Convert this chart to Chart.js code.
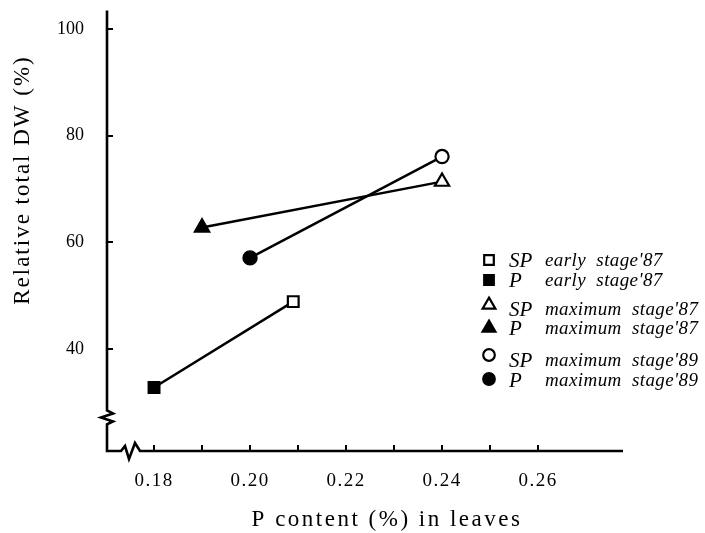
<!DOCTYPE html>
<html><head><meta charset="utf-8">
<script src="https://cdn.jsdelivr.net/npm/chart.js@4.4.1/dist/chart.umd.min.js"></script>
<style>html,body{margin:0;padding:0;background:#fff}#wrap{width:705px;height:533px}</style>
</head><body><div id="wrap"><canvas id="c" width="705" height="533"></canvas></div>
<script>
// ---- data ----
const stages = ["early stage'87", "maximum stage'87", "maximum stage'89"];
const treatments = ["SP", "P"];
const pContentP = [0.180, 0.190, 0.200];
const totalDwP = [32.8, 62.8, 57.1];
const pContentSP = [0.209, 0.240, 0.240];
const totalDwSP = [48.9, 71.4, 76.1];
const xTickValues = [0.18, 0.19, 0.20, 0.21, 0.22, 0.23, 0.24, 0.25, 0.26];
const xTickLabels = ["0.18", "", "0.20", "", "0.22", "", "0.24", "", "0.26"];
const yTickValues = [40, 60, 80, 100];
const yTickLabels = ["40", "60", "80", "100"];
const xAxisTitle = "P content (%) in leaves";
const yAxisTitle = "Relative total DW (%)";
const yBreakValue = 27.2;

// ---- styles ----
const stageShapes = ['rect', 'triangle', 'circle'];
const stageRadius = [7.6, 8.2, 6.6];
const SERIF = '"Liberation Serif", "Times New Roman", serif';

const datasets = stages.map((s, i) => ({
  label: s,
  data: [{x: pContentP[i], y: totalDwP[i]}, {x: pContentSP[i], y: totalDwSP[i]}],
  borderColor: '#000',
  borderWidth: 2.5,
  pointStyle: stageShapes[i],
  pointRadius: stageRadius[i],
  pointHoverRadius: stageRadius[i],
  pointBackgroundColor: ['#000', '#fff'],
  pointBorderColor: '#000',
  pointBorderWidth: 2.2,
  fill: false,
  tension: 0
}));

const decor = {
  id: 'decor',
  beforeDraw(chart) {
    const xs = chart.scales.x;
    if (!xs._spaced) {
      const orig = xs.drawLabels;
      xs.drawLabels = function (ca) {
        const c = this.ctx; c.save(); c.letterSpacing = '1.5px'; orig.call(this, ca); c.restore();
      };
      xs._spaced = true;
    }
  },
  beforeDatasetsDraw(chart) {
    const ctx = chart.ctx, ca = chart.chartArea, xs = chart.scales.x, ys = chart.scales.y;
    const L = ca.left, B = ca.bottom, R = ca.right, T = ca.top;
    const yb = ys.getPixelForValue(yBreakValue);
    ctx.save();
    ctx.strokeStyle = '#000';
    ctx.lineWidth = 2.6;
    ctx.lineJoin = 'miter';
    ctx.beginPath();
    ctx.moveTo(L, T);
    ctx.lineTo(L, yb - 7);
    ctx.lineTo(L + 6, yb - 4);
    ctx.lineTo(L - 6, yb);
    ctx.lineTo(L + 6, yb + 4);
    ctx.lineTo(L, yb + 7);
    ctx.lineTo(L, B);
    ctx.lineTo(L + 14, B);
    ctx.lineTo(L + 18, B - 5);
    ctx.lineTo(L + 22, B + 8);
    ctx.lineTo(L + 28, B - 8);
    ctx.lineTo(L + 33, B);
    ctx.lineTo(R, B);
    ctx.stroke();
    ctx.lineWidth = 2;
    ctx.beginPath();
    xTickValues.forEach(v => {
      const px = Math.round(xs.getPixelForValue(v));
      ctx.moveTo(px, B); ctx.lineTo(px, B - 6);
    });
    yTickValues.forEach(v => {
      const py = Math.round(ys.getPixelForValue(v));
      ctx.moveTo(L, py); ctx.lineTo(L + 6, py);
    });
    ctx.stroke();
    ctx.restore();
  },
  afterDraw(chart) {
    const ctx = chart.ctx;
    ctx.save();
    ctx.fillStyle = '#000';
    // axis titles
    ctx.letterSpacing = '2.5px';
    ctx.font = '23px ' + SERIF;
    ctx.textAlign = 'center';
    ctx.textBaseline = 'middle';
    ctx.fillText(xAxisTitle, 387, 520);
    ctx.letterSpacing = '2px';
    ctx.translate(23, 180);
    ctx.rotate(-Math.PI / 2);
    ctx.fillText(yAxisTitle, 0, 0);
    ctx.setTransform(1, 0, 0, 1, 0, 0);
    ctx.letterSpacing = '0px';
    // legend
    const rowsY = [260, 280, 305, 328, 355, 379];
    const textDy = [1, 1, 5, 1, 6, 2];
    let r = 0;
    stages.forEach((s, i) => {
      treatments.forEach((t, j) => {
        const y = rowsY[r];
        ctx.fillStyle = t === 'SP' ? '#fff' : '#000';
        ctx.strokeStyle = '#000';
        ctx.lineWidth = 2.2;
        Chart.helpers.drawPoint(ctx, {pointStyle: stageShapes[i], radius: stageRadius[i] - 0.8, borderWidth: 2.2, rotation: 0}, 489, y);
        ctx.fillStyle = '#000';
        ctx.textAlign = 'left';
        ctx.textBaseline = 'middle';
        ctx.font = 'italic 21px ' + SERIF;
        ctx.fillText(t, 509, y + textDy[r]);
        ctx.font = 'italic 19px ' + SERIF;
        ctx.letterSpacing = '0.4px';
        ctx.fillText(s.replace(' ', '  '), 545, y + textDy[r]);
        ctx.letterSpacing = '0px';
        r++;
      });
    });
    ctx.restore();
  }
};

new Chart(document.getElementById('c'), {
  type: 'line',
  data: {datasets},
  options: {
    responsive: false,
    animation: false,
    devicePixelRatio: 1,
    layout: {padding: {top: 10, right: 82, left: 0, bottom: 0}},
    plugins: {legend: {display: false}, tooltip: {enabled: false}},
    scales: {
      x: {
        type: 'linear', min: 0.1702, max: 0.2777,
        grid: {display: false}, border: {display: false},
        afterFit(s) { s.height = 82; s.paddingLeft = 0; s.paddingRight = 0; },
        afterBuildTicks(s) { s.ticks = xTickValues.map(v => ({value: v})); },
        ticks: {
          autoSkip: false, maxRotation: 0, padding: 11, color: '#000',
          font: {family: SERIF, size: 19},
          callback: (v, i) => xTickLabels[i]
        }
      },
      y: {
        type: 'linear', min: 20.9, max: 103.5,
        grid: {display: false}, border: {display: false},
        afterFit(s) { s.width = 107; s.paddingTop = 0; s.paddingBottom = 0; },
        afterBuildTicks(s) { s.ticks = yTickValues.map(v => ({value: v})); },
        ticks: {
          autoSkip: false, padding: 15, color: '#000',
          font: {family: SERIF, size: 18},
          callback: (v, i) => yTickLabels[i]
        }
      }
    }
  },
  plugins: [decor]
});
</script></body></html>
